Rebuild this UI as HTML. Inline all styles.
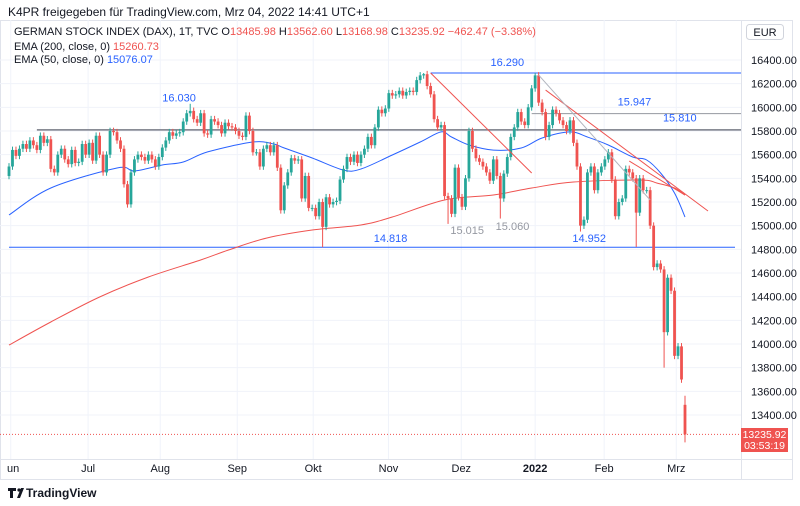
<!DOCTYPE html>
<html><head><meta charset="utf-8"><style>
html,body{margin:0;padding:0;background:#fff;}
svg{display:block;font-family:"Liberation Sans",sans-serif;}
</style></head><body>
<svg id="c" width="800" height="506" viewBox="0 0 800 506">
<text x="8" y="16" font-size="12" fill="#131722">K4PR freigegeben für TradingView.com, Mrz 04, 2022 14:41 UTC+1</text>
<rect x="0.5" y="20.5" width="792" height="459" fill="none" stroke="#e0e3eb"/>
<g id="grid"></g>
<g id="levels"></g>
<g id="emas"></g>
<g id="candles"></g>
<g id="draw"></g>
<line x1="741.5" y1="20" x2="741.5" y2="479" stroke="#e0e3eb"/>
<line x1="0" y1="459.5" x2="792" y2="459.5" stroke="#e0e3eb"/>
<g id="yaxis"></g>
<g id="xaxis"></g>
<g font-size="11">
<text x="14" y="35" fill="#131722">GERMAN STOCK INDEX (DAX), 1T, TVC <tspan fill="#131722">O</tspan><tspan fill="#ef5350">13485.98</tspan> <tspan fill="#131722">H</tspan><tspan fill="#ef5350">13562.60</tspan> <tspan fill="#131722">L</tspan><tspan fill="#ef5350">13168.98</tspan> <tspan fill="#131722">C</tspan><tspan fill="#ef5350">13235.92 −462.47 (−3.38%)</tspan></text>
<text x="14" y="50" fill="#131722">EMA (200, close, 0) <tspan fill="#ef5350">15260.73</tspan></text>
<text x="14" y="63" fill="#131722">EMA (50, close, 0) <tspan fill="#2962ff">15076.07</tspan></text>
</g>
<g>
<rect x="746.5" y="24.5" width="37" height="15" rx="3" fill="#fff" stroke="#d1d4dc"/>
<text x="765" y="36" font-size="11" text-anchor="middle" fill="#131722">EUR</text>
</g>
<g>
<rect x="741" y="428" width="47" height="24" fill="#ef5350"/>
<text x="764.5" y="438" font-size="10.5" text-anchor="middle" fill="#fff">13235.92</text>
<text x="764.5" y="449" font-size="10.5" text-anchor="middle" fill="#fff">03:53:19</text>
</g>
<g>
<path d="M8 488h8v3h-3v7h-3v-7h-2z M17 498l4-10h3l-4 10z" fill="#131722"/>
<circle cx="19" cy="490" r="1.6" fill="#131722"/>
<text x="26" y="497" font-size="12" font-weight="bold" fill="#131722">TradingView</text>
</g>
</svg>
<script>
const closes = [
15500,15640,15590,15650,15690,15650,15720,15680,15640,15760,15700,15730,15480,15450,15600,15650,15560,15520,15640,15530,15540,15690,15600,15700,15550,15760,15600,15450,15600,15800,15790,15720,15650,15350,15180,15450,15560,15600,15580,15550,15600,15560,15500,15580,15660,15720,15790,15760,
15780,15790,15880,15950,15970,15900,15870,15950,15780,15770,15900,15880,15850,15780,15870,15840,15830,15800,15760,15750,15930,15800,15620,15620,15500,15650,15680,15620,15680,15490,15130,15340,15450,15570,15550,15560,15230,15420,15150,15150,15080,15200,14990,15240,15180,15200,15210,15390,15480,15580,15540,15600,
15530,15600,15650,15750,15680,15830,15980,15950,15990,16120,16100,16110,16140,16100,16130,16140,16130,16230,16270,16280,16180,16110,15900,15830,15850,15250,15230,15100,15490,15240,15160,15400,15800,15650,15570,15540,15500,15450,15380,15560,15420,15230,15440,15580,15750,15830,15960,15880,15850,16000,16160,16270,
16040,15960,15750,15850,15980,15950,15890,15850,15800,15890,15700,15500,15000,15050,15450,15500,15300,15450,15500,15560,15620,15390,15080,15200,15230,15480,15450,15400,15110,15400,15300,15300,15000,14650,14680,14630,14100,14560,14450,13900,13980,13700,13236];
const firstOpen = 15420;
const lastOpen = 13486;
const highIdx = [52,119,151,194];
const highVal = [16030,16290,16290,13563];
const lowIdx = [90,126,141,164,180,188,194];
const lowVal = [14818,15015,15060,14950,14820,13800,13169];
const ema200Idx = [0,12,26,40,55,63,74,87,101,110,125,139,150,162,181,186,191,194];
const ema200Val = [13991,14186,14397,14566,14710,14794,14896,14963,15006,15073,15217,15259,15318,15369,15386,15360,15318,15259];
const ema50Idx = [0,12,31,36,44,50,57,70,76,79,87,96,101,110,118,124,127,132,139,147,153,161,166,172,179,183,187,191,194];
const ema50Val = [15090,15318,15487,15462,15513,15538,15623,15707,15690,15656,15572,15470,15479,15597,15707,15792,15749,15682,15639,15656,15741,15792,15749,15682,15580,15555,15445,15276,15073];
const priceTicks = [16400,16200,16000,15800,15600,15400,15200,15000,14800,14600,14400,14200,14000,13800,13600,13400];
const monthLabels = ["un","Jul","Aug","Sep","Okt","Nov","Dez","2022","Feb","Mrz"];
const monthIdx = [0.5,22.7,43.4,65.5,87.3,108.9,129.8,151.0,170.8,191.5];

const NS="http://www.w3.org/2000/svg";
const X0=9, X1=685;
const dx=(X1-X0)/(closes.length-1);
function xs(i){return X0+i*dx;}
function ys(v){return 60+(16400-v)*(355/3000);}
function mk(tag,attrs,parent){const e=document.createElementNS(NS,tag);for(const k in attrs)e.setAttribute(k,attrs[k]);parent.appendChild(e);return e;}
const G=id=>document.getElementById(id);

priceTicks.forEach(v=>{
  const l=mk('line',{x1:0,x2:741,y1:ys(v),y2:ys(v),stroke:'#f0f3fa'},G('grid'));
  
  
  const t=mk('text',{x:751,y:ys(v)+4,'font-size':11,fill:'#131722'},G('yaxis'));
  t.textContent=v.toFixed(2);
  
  
});
monthLabels.forEach((m,k)=>{
  const x=xs(monthIdx[k]);
  const l=mk('line',{x1:x,x2:x,y1:20,y2:459,stroke:'#f0f3fa'},G('grid'));
  
  
  const t=mk('text',{x:x,y:472,'font-size':11,fill:'#131722','text-anchor':k===0?'start':'middle','font-weight':m==='2022'?'bold':'normal'},G('xaxis'));
  if(k===0)t.setAttribute('x',7);
  t.textContent=m;
  
  
});

const levelVals=[16290,15947,15810,14818];
const levelFrom=[121,150,8,0];
const levelColors=['#2962ff','#9598a1','#787b86','#2962ff'];
levelVals.forEach((v,k)=>{
  const l=mk('line',{x1:xs(levelFrom[k]),x2:k===3?735:741,y1:ys(v),y2:ys(v),stroke:levelColors[k],'stroke-width':k===2?1.5:1},G('levels'));
  
  
});
const lp=mk('line',{x1:0,x2:741,y1:ys(closes[closes.length-1]),y2:ys(closes[closes.length-1]),stroke:'#ef5350','stroke-dasharray':'1 2'},G('levels'));



const annText=['16.290','15.947','15.810','16.030','14.818','14.952','15.015','15.060'];
const annIdx=[143,179.5,192.5,48.8,109.5,166.5,131.5,144.5];
const annVal=[16350,16015,15880,16050,14862,14862,14930,14965];
const annCol=['#2962ff','#2962ff','#2962ff','#2962ff','#2962ff','#2962ff','#9598a1','#9598a1'];
annText.forEach((s,k)=>{
  const t=mk('text',{x:xs(annIdx[k]),y:ys(annVal[k]),'font-size':11,fill:annCol[k],'text-anchor':'middle'},G('draw'));
  t.textContent=s;
  
  
});

function smooth(idx,val,col,name){
  const P=idx.map((i,k)=>[xs(i),ys(val[k])]);
  let d='M'+P[0][0].toFixed(1)+','+P[0][1].toFixed(1);
  for(let k=0;k<P.length-1;k++){
    const p0=P[Math.max(0,k-1)],p1=P[k],p2=P[k+1],p3=P[Math.min(P.length-1,k+2)];
    const c1=[p1[0]+(p2[0]-p0[0])/6,p1[1]+(p2[1]-p0[1])/6];
    const c2=[p2[0]-(p3[0]-p1[0])/6,p2[1]-(p3[1]-p1[1])/6];
    d+=' C'+c1.map(n=>n.toFixed(1)).join(',')+' '+c2.map(n=>n.toFixed(1)).join(',')+' '+p2.map(n=>n.toFixed(1)).join(',');
  }
  const p=mk('path',{d:d,fill:'none',stroke:col,'stroke-width':1,'stroke-linejoin':'round'},G('emas'));
  
  
}
smooth(ema200Idx,ema200Val,'#ef5350','ema200-line');
smooth(ema50Idx,ema50Val,'#2962ff','ema50-line');

const W=2.8, WICK=28;
closes.forEach((c,i)=>{
  let o = i===0?firstOpen:closes[i-1];
  if(i===closes.length-1) o=lastOpen;
  let h=Math.max(o,c)+WICK, l=Math.min(o,c)-WICK;
  const hi=highIdx.indexOf(i); if(hi>=0) h=highVal[hi];
  const li=lowIdx.indexOf(i); if(li>=0) l=lowVal[li];
  const col=c>=o?'#26a69a':'#ef5350';
  const x=xs(i);
  const g=mk('g',{},G('candles'));
  
  
  mk('line',{x1:x,x2:x,y1:ys(h),y2:ys(l),stroke:col,'stroke-width':1},g);
  const top=ys(Math.max(o,c)), bot=ys(Math.min(o,c));
  mk('rect',{x:x-W/2,y:top,width:W,height:Math.max(1,bot-top),fill:col},g);
});

const trendA=[[121,16290,150,15445,'#ef5350'],[154,16146,200.6,15124,'#ef5350'],[178,15546,194,15259,'#ef5350'],[152,16273,184,15217,'#b2b5be']];
trendA.forEach(t=>{
  const l=mk('line',{x1:xs(t[0]),y1:ys(t[1]),x2:xs(t[2]),y2:ys(t[3]),stroke:t[4],'stroke-width':1},G('draw'));
  
  
});
</script>
</body></html>
